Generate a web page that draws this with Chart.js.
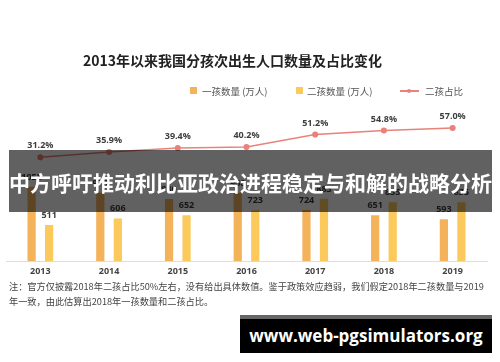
<!DOCTYPE html>
<html>
<head>
<meta charset="utf-8">
<script src="https://cdn.jsdelivr.net/npm/chart.js@4"></script>
<style>
  body { margin: 0; background: #fff; }
  #wrap { position: relative; width: 500px; height: 362px; overflow: hidden; background: #fff;
          font-family: "Noto Sans CJK SC", "Noto Sans", sans-serif; }
  #chart { position: absolute; left: 0; top: 0; }
  .abs { position: absolute; white-space: nowrap; }
  #title { left: 83px; top: 50px; font-size: 14px; font-weight: bold; color: #222; }
  .sw { position: absolute; width: 7px; height: 7px; top: 87px; }
  .lt { position: absolute; top: 84px; font-size: 9.5px; color: #555; white-space: nowrap; }
  #lline { position: absolute; left: 400px; top: 90px; width: 19px; height: 1.5px; background: #e8827a; }
  #ldot { position: absolute; left: 407px; top: 89px; width: 4px; height: 4px; border-radius: 2px; background: #e8827a; }
  #note { left: 9px; top: 279px; font-size: 9.2px; color: #444; line-height: 14.5px; }
  #banner { left: 9px; top: 150px; width: 483px; height: 62px; background: rgba(0,0,0,0.62);
            color: #fff; font-size: 21px; font-weight: bold; line-height: 64px; text-align: center; }
  #mark { left: 240px; top: 315px; width: 252px; height: 34px; border-top: 4px solid #666; background: #000;
          color: #fff; font-family: "Open Sans", "DejaVu Sans", sans-serif; font-size: 17px; font-weight: bold;
          line-height: 34px; text-align: center; }
</style>
</head>
<body>
<div id="wrap">
  <canvas id="chart" width="500" height="362"></canvas>
  <div id="title" class="abs">2013年以来我国分孩次出生人口数量及占比变化</div>
  <span class="sw" style="left:190px;background:#f4b25b"></span>
  <span class="lt" style="left:202px">一孩数量 (万人)</span>
  <span class="sw" style="left:296px;background:#fcca5c"></span>
  <span class="lt" style="left:307px">二孩数量 (万人)</span>
  <span id="lline"></span><span id="ldot"></span>
  <span class="lt" style="left:425px">二孩占比</span>
  <div id="note" class="abs">注：官方仅披露2018年二孩占比50%左右，没有给出具体数值。鉴于政策效应趋弱，我们假定2018年二孩数量与2019<br>年一致，由此估算出2018年一孩数量和二孩占比。</div>
  <div id="banner" class="abs">中方呼吁推动利比亚政治进程稳定与和解的战略分析</div>
  <div id="mark" class="abs">www.web-pgsimulators.org</div>
</div>
<script>
// data
var years = ['2013', '2014', '2015', '2016', '2017', '2018', '2019'];
var firstChild = [1055, 970, 880, 968, 724, 651, 593];     // 万人
var secondChild = [511, 606, 652, 723, 883, 835, 835];     // 万人
var secondShare = [31.2, 35.9, 39.4, 40.2, 51.2, 54.8, 57.0]; // %

Chart.defaults.font.family = '"Open Sans", "Noto Sans CJK SC", sans-serif';

// value labels above every bar and point
var valueLabels = {
  id: 'valueLabels',
  afterDatasetsDraw: function (chart) {
    var ctx = chart.ctx;
    ctx.save();
    ctx.font = 'bold 9px "Open Sans", sans-serif';
    ctx.fillStyle = '#3d3d3d';
    ctx.textAlign = 'center';
    ctx.textBaseline = 'bottom';
    chart.data.datasets.forEach(function (ds, i) {
      var meta = chart.getDatasetMeta(i);
      meta.data.forEach(function (el, j) {
        var txt = ds.type === 'line' ? ds.data[j].toFixed(1) + '%' : String(ds.data[j]);
        ctx.fillText(txt, el.x, el.y - (ds.type === 'line' ? 7 : 5));
      });
    });
    ctx.restore();
  }
};

var ctx = document.getElementById('chart').getContext('2d');
var chart = new Chart(ctx, {
  data: {
    labels: years,
    datasets: [
      {
        type: 'bar',
        label: '一孩数量（万人）',
        data: firstChild,
        backgroundColor: '#f4b25b',
        yAxisID: 'y',
        order: 1,
        categoryPercentage: 0.51,
        barPercentage: 0.47
      },
      {
        type: 'bar',
        label: '二孩数量（万人）',
        data: secondChild,
        backgroundColor: '#fcca5c',
        yAxisID: 'y',
        order: 1,
        categoryPercentage: 0.51,
        barPercentage: 0.47
      },
      {
        type: 'line',
        label: '二孩占比',
        data: secondShare,
        borderColor: '#e8827a',
        backgroundColor: '#e8827a',
        borderWidth: 1.5,
        pointRadius: 2.3,
        yAxisID: 'y1',
        order: 0
      }
    ]
  },
  options: {
    responsive: false,
    animation: false,
    devicePixelRatio: 1,
    layout: { padding: { left: 6, right: 13, top: 120, bottom: 80 } },
    plugins: {
      legend: { display: false },
      title: { display: false },
      tooltip: { enabled: false }
    },
    scales: {
      x: {
        grid: { display: false, drawTicks: false },
        border: { display: true, color: '#dddddd' },
        ticks: { color: '#444', padding: 5, font: { size: 9, weight: 'bold' } }
      },
      y: { display: false, min: 0, max: 2000 },
      y1: { display: false, min: -60, max: 64 }
    }
  },
  plugins: [valueLabels]
});
</script>
</body>
</html>
